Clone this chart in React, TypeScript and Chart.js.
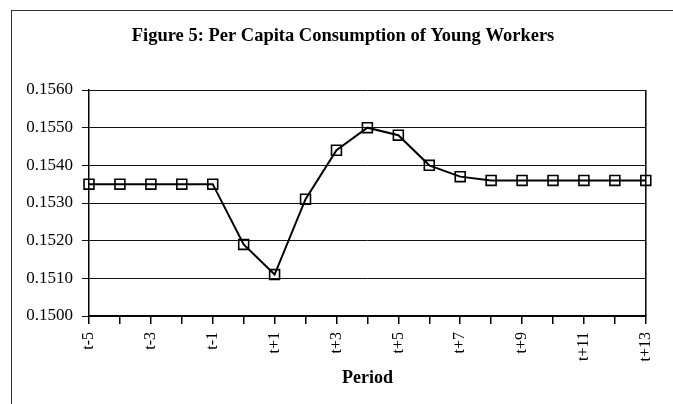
import React, { useEffect, useRef } from "react";
import { Chart, registerables } from "chart.js";

Chart.register(...registerables);

const periods = [
  "t-5", "t-4", "t-3", "t-2", "t-1", "t", "t+1", "t+2", "t+3", "t+4",
  "t+5", "t+6", "t+7", "t+8", "t+9", "t+10", "t+11", "t+12", "t+13",
];
const consumption = [
  0.1535, 0.1535, 0.1535, 0.1535, 0.1535, 0.1519, 0.1511, 0.1531, 0.1544, 0.1550,
  0.1548, 0.1540, 0.1537, 0.1536, 0.1536, 0.1536, 0.1536, 0.1536, 0.1536,
];
const titleText = "Figure 5: Per Capita Consumption of Young Workers";
const xTitle = "Period";
const yMin = 0.15;
const yMax = 0.156;
const yStep = 0.001;

const FONT = "'Liberation Serif', 'Times New Roman', serif";

const framePlugin = {
  id: "frame",
  beforeDatasetsDraw(chart: any) {
    const { ctx, chartArea } = chart;
    ctx.save();
    ctx.strokeStyle = "#000";
    ctx.lineWidth = 1.5;
    ctx.beginPath();
    ctx.moveTo(chartArea.right, chartArea.top);
    ctx.lineTo(chartArea.right, chartArea.bottom);
    ctx.stroke();
    ctx.restore();
  },
  afterDraw(chart: any) {
    const { ctx } = chart;
    ctx.save();
    ctx.fillStyle = "#000";
    ctx.font = `bold 18.5px ${FONT}`;
    ctx.textAlign = "center";
    ctx.textBaseline = "alphabetic";
    ctx.fillText(titleText, 343, 41);
    ctx.restore();
  },
};

export default function App() {
  const ref = useRef<HTMLCanvasElement | null>(null);

  useEffect(() => {
    document.body.style.margin = "0";
    document.body.style.overflow = "hidden";
    const canvas = ref.current;
    if (!canvas) return;
    const chart = new Chart(canvas, {
      type: "line",
      data: {
        labels: periods,
        datasets: [
          {
            data: consumption,
            borderColor: "#000",
            borderWidth: 2,
            backgroundColor: "rgba(0,0,0,0)",
            pointStyle: "rect",
            pointRadius: 7,
            pointBorderWidth: 1.6,
            pointBorderColor: "#000",
            pointBackgroundColor: "rgba(0,0,0,0)",
            tension: 0,
            clip: false as any,
          },
        ],
      },
      options: {
        responsive: false,
        animation: false,
        devicePixelRatio: 1,
        layout: { padding: { left: 0, right: 21, top: 90, bottom: 0 } },
        plugins: {
          legend: { display: false },
          tooltip: { enabled: false },
          title: { display: false },
        },
        scales: {
          x: {
            type: "category",
            offset: false,
            grid: {
              offset: false,
              drawOnChartArea: false,
              drawTicks: true,
              tickLength: 8,
              color: "#000",
              lineWidth: 1.5,
            },
            border: { display: true, color: "#000", width: 1.5 },
            ticks: {
              autoSkip: false,
              maxRotation: 90,
              minRotation: 90,
              padding: 8,
              color: "#000",
              font: { family: FONT, size: 16 },
              callback: (_v: any, i: number) => (i % 2 === 0 ? periods[i] : ""),
            },
            title: {
              display: true,
              text: xTitle,
              color: "#000",
              font: { family: FONT, size: 18, weight: "bold" },
              padding: { top: 0, bottom: 15 },
            },
            afterFit: (scale: any) => {
              scale.height = 88;
            },
          },
          y: {
            min: yMin,
            max: yMax,
            grid: {
              color: "#111",
              lineWidth: 1,
              drawTicks: true,
              tickLength: 7,
            },
            border: { display: true, color: "#000", width: 1.5 },
            ticks: {
              stepSize: yStep,
              padding: 9,
              color: "#000",
              font: { family: FONT, size: 17 },
              callback: (v: any) => Number(v).toFixed(4),
            },
            afterFit: (scale: any) => {
              scale.width = 89;
            },
          },
        },
      },
      plugins: [framePlugin],
    });
    return () => chart.destroy();
  }, []);

  return (
    <div style={{ position: "relative", width: 673, height: 404, background: "#fff" }}>
      <div
        style={{
          position: "absolute",
          left: 11,
          top: 10,
          right: 0,
          bottom: 0,
          borderLeft: "1px solid #333",
          borderTop: "1px solid #333",
        }}
      />
      <canvas
        ref={ref}
        width={673}
        height={404}
        style={{ position: "absolute", left: 0, top: 0, display: "block" }}
      />
    </div>
  );
}
